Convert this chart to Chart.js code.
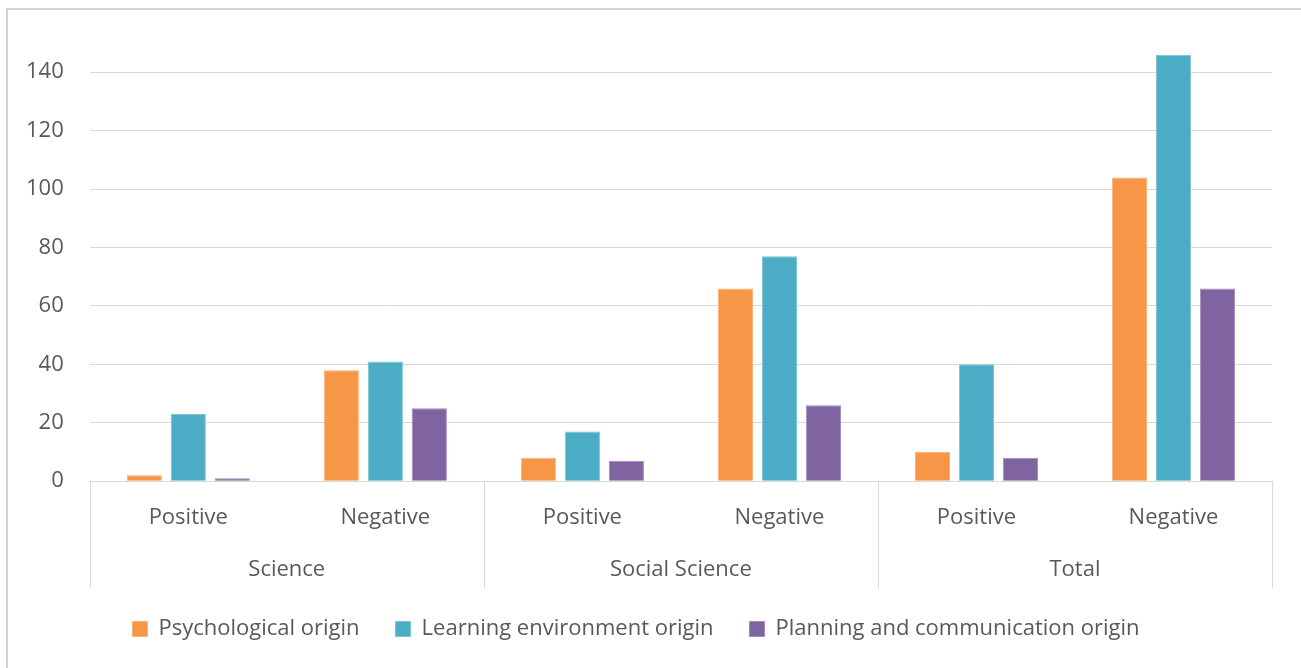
<!DOCTYPE html>
<html>
<head>
<meta charset="utf-8">
<script src="https://cdn.jsdelivr.net/npm/chart.js@4.4.1/dist/chart.umd.min.js"></script>
<style>
  html, body { margin: 0; padding: 0; background: #fff; }
  body { width: 1301px; height: 668px; position: relative; overflow: hidden; }
  .frame {
    position: absolute; left: 6px; top: 8px; right: 0; bottom: 0;
    border-left: 2px solid #d4d4d4; border-top: 2px solid #d4d4d4;
  }
  #chart { position: absolute; left: 0; top: 0; }
</style>
</head>
<body>
<div class="frame"></div>
<canvas id="chart" width="1301" height="668"></canvas>
<script>
// Two-level category axis: sentiment inside each subject group
const groups = ['Science', 'Social Science', 'Total'];
const sentiments = ['Positive', 'Negative', 'Positive', 'Negative', 'Positive', 'Negative'];

const psychological = [2, 38, 8, 66, 10, 104];
const learningEnv = [23, 41, 17, 77, 40, 146];
const planningComm = [1, 25, 7, 26, 8, 66];

const yTicks = [0, 20, 40, 60, 80, 100, 120, 140];

const textColor = '#595959';
const lineColor = '#d9d9d9';
const fontFamily = "'Open Sans', 'Noto Sans', sans-serif";

// Vertical separators of the grouped axis, from the zero line down past the group labels
const groupSeparators = {
  id: 'groupSeparators',
  afterDraw(chart) {
    const x = chart.scales.x;
    const x2 = chart.scales.x2;
    const ctx = chart.ctx;
    const per = sentiments.length / groups.length;
    ctx.save();
    ctx.strokeStyle = lineColor;
    ctx.lineWidth = 1;
    for (let g = 0; g <= groups.length; g++) {
      const px = Math.round(x.getPixelForValue(g * per - 0.5)) + 0.5;
      ctx.beginPath();
      ctx.moveTo(px, chart.chartArea.bottom);
      ctx.lineTo(px, x2.bottom + 6);
      ctx.stroke();
    }
    ctx.restore();
  }
};

const ctx = document.getElementById('chart').getContext('2d');

new Chart(ctx, {
  type: 'bar',
  data: {
    labels: sentiments,
    datasets: [
      {
        label: 'Psychological origin',
        data: psychological,
        backgroundColor: '#F79646',
        borderColor: '#FAB07A',
        borderWidth: 1
      },
      {
        label: 'Learning environment origin',
        data: learningEnv,
        backgroundColor: '#4BACC6',
        borderColor: '#7CC3D6',
        borderWidth: 1
      },
      {
        label: 'Planning and communication origin',
        data: planningComm,
        backgroundColor: '#8064A2',
        borderColor: '#A28CBD',
        borderWidth: 1
      }
    ]
  },
  options: {
    responsive: false,
    animation: false,
    categoryPercentage: 0.67,
    barPercentage: 0.8,
    layout: {
      padding: { left: 0, right: 29, top: 43, bottom: 18 }
    },
    plugins: {
      tooltip: { enabled: false },
      legend: {
        position: 'bottom',
        labels: {
          boxWidth: 15,
          boxHeight: 15,
          padding: 36,
          color: textColor,
          font: { family: fontFamily, size: 22 }
        }
      }
    },
    scales: {
      x: {
        type: 'category',
        position: 'bottom',
        grid: { drawOnChartArea: false, drawTicks: false },
        border: { display: true, color: lineColor, width: 1 },
        ticks: {
          padding: 23,
          color: textColor,
          maxRotation: 0,
          autoSkip: false,
          font: { family: fontFamily, size: 22 }
        }
      },
      x2: {
        type: 'category',
        position: 'bottom',
        labels: groups,
        offset: true,
        grid: { drawOnChartArea: false, drawTicks: false },
        border: { display: false },
        ticks: {
          padding: 3,
          color: textColor,
          maxRotation: 0,
          autoSkip: false,
          font: { family: fontFamily, size: 22 }
        },
        afterFit(scale) {
          scale.height -= 4;
        }
      },
      y: {
        min: 0,
        max: 150,
        grid: { color: lineColor, drawTicks: false },
        border: { display: false },
        afterBuildTicks(scale) {
          scale.ticks = yTicks.map(v => ({ value: v }));
        },
        ticks: {
          padding: 26,
          color: textColor,
          font: { family: fontFamily, size: 22 }
        }
      }
    }
  },
  plugins: [groupSeparators]
});
</script>
</body>
</html>
